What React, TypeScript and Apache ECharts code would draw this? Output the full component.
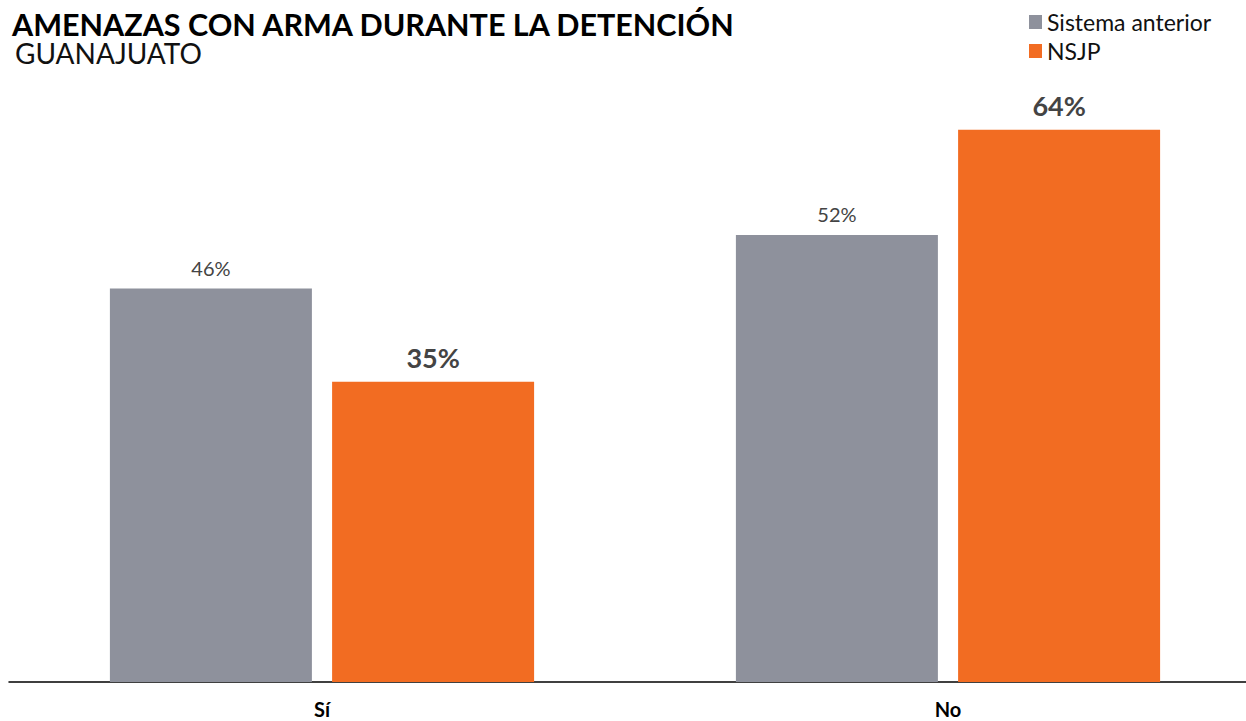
import React, { useEffect, useRef } from "react";
import * as echarts from "echarts";

const categories = ["Sí", "No"];
const seriesNames = ["Sistema anterior", "NSJP"];
const anterior = [45.6, 51.8];
const nsjp = [34.8, 64.0];
const colors = ["#8E919C", "#F26C22"];
const titleText = "AMENAZAS CON ARMA DURANTE LA DETENCIÓN";
const subtitleText = "GUANAJUATO";

export default function App() {
  const ref = useRef<HTMLDivElement>(null);
  useEffect(() => {
    if (!ref.current) return;
    const chart = echarts.init(ref.current, undefined, { renderer: "svg" });
    const font = "Lato, 'Noto Sans', sans-serif";
    chart.setOption({
      animation: false,
      textStyle: { fontFamily: font },
      title: [
        {
          text: titleText,
          left: 12,
          top: 11,
          padding: 0,
          textStyle: { fontFamily: font, fontSize: 30.5, lineHeight: 26, fontWeight: "bold", color: "#000" },
        },
        {
          text: subtitleText,
          left: 15,
          top: 40.5,
          padding: 0,
          textStyle: { fontFamily: font, fontSize: 28, lineHeight: 24, fontWeight: "normal", color: "#111" },
        },
      ],
      legend: {
        orient: "vertical",
        left: 1029,
        top: 10.5,
        padding: 0,
        itemWidth: 13,
        itemHeight: 14,
        itemGap: 6,
        icon: "rect",
        textStyle: { fontFamily: font, fontSize: 23, color: "#111", padding: 0 },
        data: seriesNames,
      },
      grid: { left: 9, right: 0, top: 78, bottom: 39, containLabel: false },
      xAxis: {
        type: "category",
        data: categories,
        axisLine: { show: true, lineStyle: { color: "#000", width: 1.5 } },
        axisTick: { show: false },
        axisLabel: {
          margin: 19,
          fontFamily: font,
          fontSize: 20,
          lineHeight: 16,
          fontWeight: "bold",
          color: "#000",
        },
      },
      yAxis: {
        type: "value",
        min: 0,
        max: 70,
        show: false,
        splitLine: { show: false },
      },
      series: [
        {
          name: seriesNames[0],
          type: "bar",
          data: anterior,
          barWidth: 202,
          barGap: "10%",
          itemStyle: { color: colors[0] },
          label: {
            show: true,
            position: "top",
            distance: 11,
            formatter: (p: any) => Math.round(p.value) + "%",
            fontFamily: font,
            fontSize: 20,
            color: "#444",
          },
        },
        {
          name: seriesNames[1],
          type: "bar",
          data: nsjp,
          barWidth: 202,
          barGap: "10%",
          itemStyle: { color: colors[1] },
          label: {
            show: true,
            position: "top",
            distance: 11,
            formatter: (p: any) => Math.round(p.value) + "%",
            fontFamily: font,
            fontSize: 27,
            fontWeight: "bold",
            color: "#444",
          },
        },
      ],
    });
    return () => chart.dispose();
  }, []);
  return (
    <div
      style={{ position: "absolute", left: 0, top: 0, width: 1246, height: 721, overflow: "hidden", background: "#fff" }}
    >
      <div ref={ref} style={{ position: "absolute", left: 0, top: 0, width: 1261, height: 721 }} />
    </div>
  );
}
